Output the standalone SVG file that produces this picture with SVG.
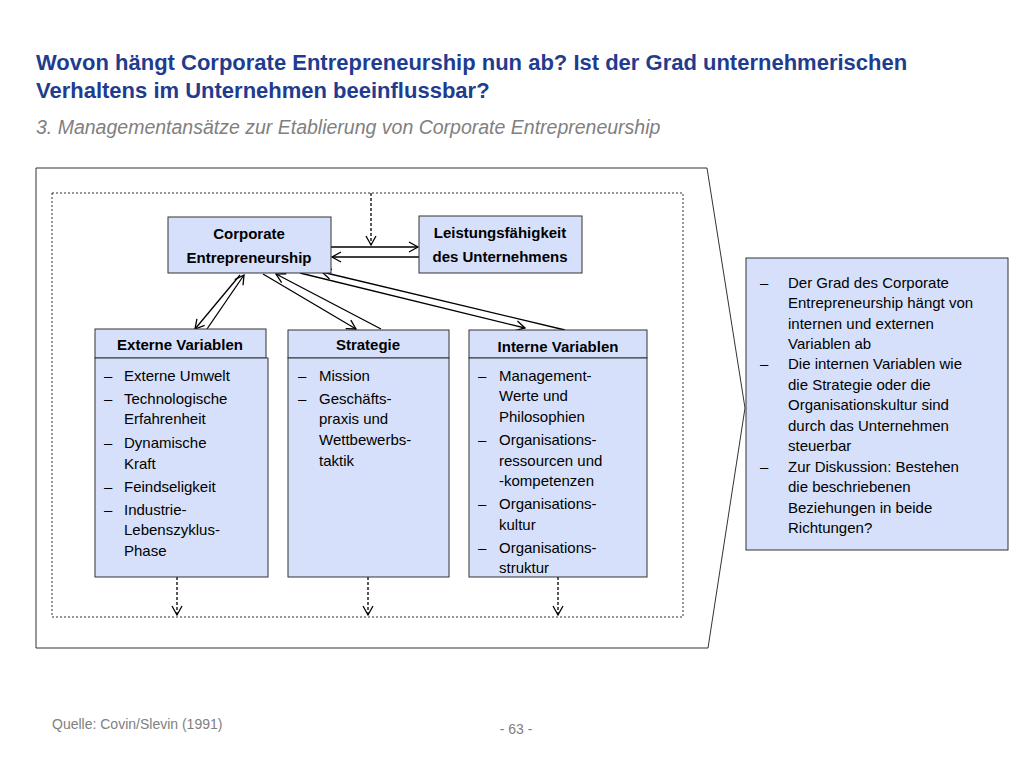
<svg xmlns="http://www.w3.org/2000/svg" width="1024" height="768" viewBox="0 0 1024 768">
<defs>
<marker id="ah" markerWidth="12" markerHeight="12" refX="10" refY="6" orient="auto" markerUnits="userSpaceOnUse"><path d="M1,1 L10,6 L1,11" fill="none" stroke="#000" stroke-width="1.3"/></marker>
<style>
.box{fill:#d6e0fa;stroke:#333;stroke-width:1}
.h{font-family:"Liberation Sans",Arial,sans-serif;font-weight:bold;font-size:15px;fill:#000;text-anchor:middle}
.t{font-family:"Liberation Sans",Arial,sans-serif;font-size:15px;fill:#000}
.ln{stroke:#000;stroke-width:1.3;fill:none;marker-end:url(#ah)}
.dl{stroke:#000;stroke-width:1.3;fill:none;stroke-dasharray:3,2;marker-end:url(#ah)}
</style>
</defs>
<rect width="1024" height="768" fill="#fff"/>
<text x="36" y="70" font-family="Liberation Sans,Arial,sans-serif" font-weight="bold" font-size="22" fill="#1f3c8f">Wovon hängt Corporate Entrepreneurship nun ab? Ist der Grad unternehmerischen</text>
<text x="36" y="98" font-family="Liberation Sans,Arial,sans-serif" font-weight="bold" font-size="22" fill="#1f3c8f">Verhaltens im Unternehmen beeinflussbar?</text>
<text x="36" y="134" font-family="Liberation Sans,Arial,sans-serif" font-style="italic" font-size="19.5" fill="#808080">3. Managementansätze zur Etablierung von Corporate Entrepreneurship</text>
<polygon points="36,168 707,168 745,408 708,648 36,648" fill="#fff" stroke="#333" stroke-width="1"/>
<rect x="52" y="193" width="631" height="424" fill="none" stroke="#333" stroke-dasharray="2,2"/>
<g id="connectors">
<line class="dl" x1="371" y1="193" x2="371" y2="245"/>
<line class="ln" x1="331" y1="247" x2="418" y2="247"/>
<line class="ln" x1="419" y1="257" x2="332" y2="257"/>
<line class="ln" x1="240" y1="275" x2="195" y2="329"/>
<line class="ln" x1="207" y1="329" x2="244" y2="275"/>
<line class="ln" x1="263" y1="274" x2="356" y2="329"/>
<line class="ln" x1="381" y1="329" x2="276" y2="274"/>
<line class="ln" x1="300" y1="273" x2="525" y2="328"/>
<line class="ln" x1="565" y1="330" x2="322" y2="272"/>
<line class="dl" x1="177" y1="577" x2="177" y2="615"/>
<line class="dl" x1="368" y1="577" x2="368" y2="615"/>
<line class="dl" x1="558" y1="577" x2="558" y2="615"/>
</g>
<g id="ce"><rect class="box" x="168" y="217" width="163" height="56"/><text class="h" x="249" y="239">Corporate</text><text class="h" x="249" y="263">Entrepreneurship</text></g>
<g id="leistung"><rect class="box" x="419" y="216" width="163" height="57"/><text class="h" x="500" y="238">Leistungsfähigkeit</text><text class="h" x="500" y="262">des Unternehmens</text></g>
<g id="extern">
<rect class="box" x="95" y="329" width="171" height="29"/><text class="h" x="180" y="350">Externe Variablen</text>
<rect class="box" x="95" y="358" width="173" height="219"/>
<text class="t"><tspan x="104" y="381">–</tspan><tspan x="124" y="381">Externe Umwelt</tspan><tspan x="104" y="404">–</tspan><tspan x="124" y="404">Technologische</tspan><tspan x="124" y="424">Erfahrenheit</tspan><tspan x="104" y="448">–</tspan><tspan x="124" y="448">Dynamische</tspan><tspan x="124" y="469">Kraft</tspan><tspan x="104" y="492">–</tspan><tspan x="124" y="492">Feindseligkeit</tspan><tspan x="104" y="515">–</tspan><tspan x="124" y="515">Industrie-</tspan><tspan x="124" y="535">Lebenszyklus-</tspan><tspan x="124" y="556">Phase</tspan></text>
</g>
<g id="strategie">
<rect class="box" x="288" y="330" width="161" height="28"/><text class="h" x="368" y="350">Strategie</text>
<rect class="box" x="288" y="358" width="161" height="219"/>
<text class="t"><tspan x="298" y="381">–</tspan><tspan x="319" y="381">Mission</tspan><tspan x="298" y="404">–</tspan><tspan x="319" y="404">Geschäfts-</tspan><tspan x="319" y="424">praxis und</tspan><tspan x="319" y="445">Wettbewerbs-</tspan><tspan x="319" y="466">taktik</tspan></text>
</g>
<g id="intern">
<rect class="box" x="469" y="330" width="178" height="28"/><text class="h" x="558" y="352">Interne Variablen</text>
<rect class="box" x="469" y="358" width="178" height="219"/>
<text class="t"><tspan x="478" y="381">–</tspan><tspan x="499" y="381">Management-</tspan><tspan x="499" y="401">Werte und</tspan><tspan x="499" y="422">Philosophien</tspan><tspan x="478" y="445">–</tspan><tspan x="499" y="445">Organisations-</tspan><tspan x="499" y="466">ressourcen und</tspan><tspan x="499" y="486">-kompetenzen</tspan><tspan x="478" y="509">–</tspan><tspan x="499" y="509">Organisations-</tspan><tspan x="499" y="530">kultur</tspan><tspan x="478" y="553">–</tspan><tspan x="499" y="553">Organisations-</tspan><tspan x="499" y="573">struktur</tspan></text>
</g>
<g id="note">
<rect class="box" x="746" y="258" width="262" height="292"/>
<text class="t"><tspan x="760" y="288">–</tspan><tspan x="788" y="288">Der Grad des Corporate</tspan><tspan x="788" y="308">Entrepreneurship hängt von</tspan><tspan x="788" y="329">internen und externen</tspan><tspan x="788" y="349">Variablen ab</tspan><tspan x="760" y="369">–</tspan><tspan x="788" y="369">Die internen Variablen wie</tspan><tspan x="788" y="390">die Strategie oder die</tspan><tspan x="788" y="410">Organisationskultur sind</tspan><tspan x="788" y="431">durch das Unternehmen</tspan><tspan x="788" y="451">steuerbar</tspan><tspan x="760" y="472">–</tspan><tspan x="788" y="472">Zur Diskussion: Bestehen</tspan><tspan x="788" y="492">die beschriebenen</tspan><tspan x="788" y="513">Beziehungen in beide</tspan><tspan x="788" y="533">Richtungen?</tspan></text>
</g>
<text x="52" y="729" font-family="Liberation Sans,Arial,sans-serif" font-size="14" fill="#808080">Quelle: Covin/Slevin (1991)</text>
<text x="516" y="734" font-family="Liberation Sans,Arial,sans-serif" font-size="14" fill="#808080" text-anchor="middle">- 63 -</text>
</svg>
